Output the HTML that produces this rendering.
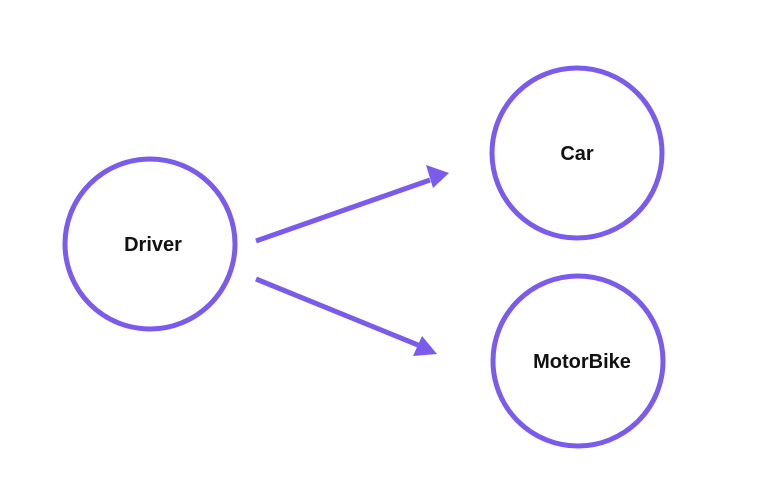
<!DOCTYPE html>
<html><head><style>
html,body{margin:0;padding:0;background:#fff;width:766px;height:491px;overflow:hidden}
text{font-family:"Liberation Sans",sans-serif;font-weight:bold;font-size:20px;fill:#111}
</style></head><body>
<svg width="766" height="491" viewBox="0 0 766 491" xmlns="http://www.w3.org/2000/svg">
<g fill="none" stroke="#7a5bec" stroke-width="5">
<circle cx="150" cy="244" r="85"/>
<circle cx="577" cy="153" r="85"/>
<circle cx="578" cy="361" r="85"/>
<line x1="256" y1="241" x2="430" y2="180"/>
<line x1="256" y1="279" x2="418" y2="345"/>
</g>
<polygon points="449,173 426,165 433,188" fill="#7a5bec"/>
<polygon points="437,354 413,356 422,336" fill="#7a5bec"/>
<text x="153" y="251" text-anchor="middle">Driver</text>
<text x="577" y="160" text-anchor="middle">Car</text>
<text x="582" y="368" text-anchor="middle">MotorBike</text>
</svg>
</body></html>
